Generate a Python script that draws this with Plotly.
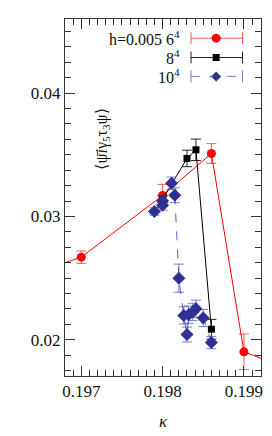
import plotly.graph_objects as go

# ---- data ----
kappa_6 = [0.1960, 0.1970, 0.1980, 0.1986, 0.1990, 0.2000]
val_6 = [0.02446, 0.02670, 0.03170, 0.03510, 0.01903, 0.01652]
err_6 = [0.0006, 0.0005, 0.0009, 0.0008, 0.00144, 0.0010]

kappa_8 = [0.19800, 0.19830, 0.19841, 0.19860]
val_8 = [0.03140, 0.03470, 0.03540, 0.02086]
err_8 = [0.0003, 0.00067, 0.00087, 0.0008]

kappa_10 = [0.19790, 0.19800, 0.19800, 0.19811, 0.19815, 0.19820, 0.19826,
            0.19830, 0.19832, 0.19837, 0.19841, 0.19850, 0.19860]
val_10 = [0.03040, 0.03126, 0.03091, 0.03269, 0.03172, 0.02500, 0.02198,
          0.02043, 0.02204, 0.02226, 0.02252, 0.02177, 0.01978]
err_10 = [0.0003, 0.0004, 0.0004, 0.0005, 0.0006, 0.00114, 0.0007,
          0.0006, 0.0007, 0.0007, 0.0007, 0.0007, 0.0005]

legend_labels = ["h=0.005 6<sup>4</sup>", "8<sup>4</sup>", "10<sup>4</sup>"]
x_ticks = [0.197, 0.198, 0.199]
y_ticks = [0.02, 0.03, 0.04]

RED = "#ff0000"
BLACK = "#000000"
BLUE = "#2e3192"
FONT = "Liberation Serif"

fig = go.Figure()

fig.add_trace(go.Scatter(
    x=kappa_6, y=val_6, mode="lines+markers",
    line=dict(color=RED, width=1),
    marker=dict(symbol="circle", size=9, color=RED),
    error_y=dict(type="data", array=err_6, color="rgba(255,60,60,0.85)", thickness=1, width=5),
    showlegend=False))

fig.add_trace(go.Scatter(
    x=kappa_8, y=val_8, mode="lines+markers",
    line=dict(color=BLACK, width=1),
    marker=dict(symbol="square", size=7, color=BLACK),
    error_y=dict(type="data", array=err_8, color="#222222", thickness=1, width=5),
    showlegend=False))

fig.add_trace(go.Scatter(
    x=kappa_10, y=val_10, mode="lines+markers",
    line=dict(color="rgba(60,60,170,0.8)", width=1, dash="dash"),
    marker=dict(symbol="diamond", size=10, color=BLUE),
    error_y=dict(type="data", array=err_10, color="rgba(90,90,190,0.8)", thickness=1, width=5),
    showlegend=False))

# ---- legend drawn manually in paper coordinates ----
L, R, T, B = 65, 9, 19, 58
W, H = 272, 436
pw, ph = W - L - R, H - T - B

def px(x):
    return (x - L) / pw

def py(y):
    return (H - B - y) / ph

rows_y = [38.3, 57.7, 76.7]
colors = [RED, BLACK, BLUE]
line_cols = ["rgba(255,60,60,0.85)", "#222222", "rgba(90,90,190,0.8)"]
dashes = ["solid", "solid", "dash"]
x0, x1, xm = 192.3, 244.3, 217.7

for i, yy in enumerate(rows_y):
    fig.add_shape(type="line", xref="paper", yref="paper",
                  x0=px(x0), x1=px(x1), y0=py(yy), y1=py(yy),
                  line=dict(color=line_cols[i], width=1, dash=dashes[i]))
    for xc in (x0, x1):
        fig.add_shape(type="line", xref="paper", yref="paper",
                      x0=px(xc), x1=px(xc), y0=py(yy - 6), y1=py(yy + 6),
                      line=dict(color=line_cols[i], width=1))
    common = dict(xref="paper", yref="paper", xsizemode="pixel", ysizemode="pixel",
                  xanchor=px(xm), yanchor=py(yy), fillcolor=colors[i],
                  line=dict(width=0))
    if i == 0:
        fig.add_shape(type="circle", x0=-4.5, x1=4.5, y0=-4.5, y1=4.5, **common)
    elif i == 1:
        fig.add_shape(type="rect", x0=-3.5, x1=3.5, y0=-3.5, y1=3.5, **common)
    else:
        fig.add_shape(type="path", path="M 0 -5 L 5 0 L 0 5 L -5 0 Z", **common)
    fig.add_annotation(xref="paper", yref="paper", x=px(183), y=py(yy),
                       text=legend_labels[i], showarrow=False, xanchor="right",
                       yanchor="middle", font=dict(family=FONT, size=16, color="#111"))

# y-axis label inside plot
fig.add_annotation(xref="paper", yref="paper", x=px(91), y=py(140),
                   text="⟨ψ̄<i>i</i>γ<sub>5</sub>τ<sub>3</sub>ψ⟩", textangle=-90,
                   showarrow=False, font=dict(family=FONT, size=16, color="#111"))

axis_common = dict(
    showline=True, linecolor="#333", linewidth=1, mirror="allticks",
    ticks="inside", ticklen=10, tickwidth=1, tickcolor="#333",
    showgrid=False, zeroline=False,
    tickfont=dict(family=FONT, size=17, color="#111"),
)

fig.update_xaxes(range=[0.19680, 0.19921], tickvals=x_ticks,
                 ticktext=[f"{v:.3f}" for v in x_ticks],
                 minor=dict(dtick=0.0001, tick0=0.197, ticks="inside", ticklen=6, tickcolor="#333", showgrid=False),
                 title=dict(text="<i>κ</i>", font=dict(family=FONT, size=17, color="#111"), standoff=14),
                 **axis_common)
fig.update_yaxes(range=[0.01707, 0.04600], tickvals=y_ticks,
                 ticktext=[f"{v:.2f}" for v in y_ticks],
                 minor=dict(dtick=0.00125, tick0=0.02, ticks="inside", ticklen=6, tickcolor="#333", showgrid=False),
                 **axis_common)

fig.update_layout(
    width=W, height=H,
    margin=dict(l=L, r=R, t=T, b=B, pad=0),
    plot_bgcolor="white", paper_bgcolor="white",
    showlegend=False,
)

fig.write_html("out.html", post_script="document.body.style.margin='0';",
               config={"displayModeBar": False})
